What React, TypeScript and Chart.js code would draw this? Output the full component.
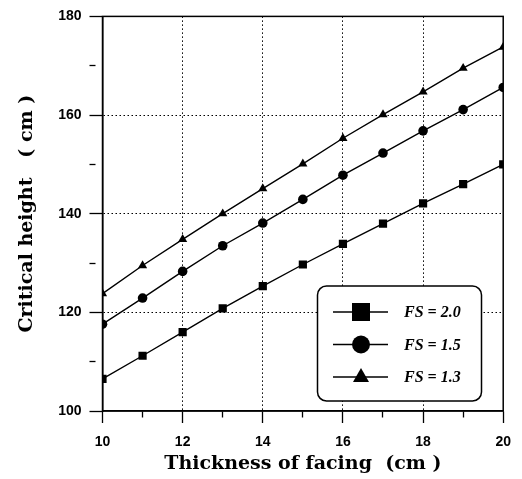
import React, { useEffect, useRef } from "react";
import { Chart, registerables } from "chart.js";

Chart.register(...registerables);

const thickness = [10, 11, 12, 13, 14, 15, 16, 17, 18, 19, 20];
const fs20 = [106.5, 111.2, 116.0, 120.8, 125.3, 129.7, 133.9, 138.0, 142.1, 146.0, 150.0];
const fs15 = [117.6, 122.9, 128.3, 133.5, 138.1, 142.9, 147.8, 152.3, 156.8, 161.1, 165.6];
const fs13 = [123.8, 129.5, 134.8, 140.0, 145.1, 150.1, 155.3, 160.1, 164.7, 169.5, 173.8];
const seriesLabels = ["FS = 2.0", "FS = 1.5", "FS = 1.3"];
const seriesStyles = ["rect", "circle", "triangle"];
const xTitle = "Thickness of facing  (cm )";
const yTitle = "Critical height   ( cm )";

const legendPlugin = {
  id: "customLegend",
  afterDraw(chart: any) {
    const { ctx, chartArea } = chart;
    ctx.save();
    // frame
    ctx.strokeStyle = "#000";
    ctx.lineWidth = 1.5;
    ctx.setLineDash([]);
    ctx.strokeRect(chartArea.left, chartArea.top, chartArea.right - chartArea.left, chartArea.bottom - chartArea.top);
    // legend box
    const bx = 317.5, by = 286, bw = 164, bh = 115;
    ctx.fillStyle = "#fff";
    ctx.beginPath();
    (ctx as any).roundRect(bx, by, bw, bh, 9);
    ctx.fill();
    ctx.lineWidth = 1.5;
    ctx.stroke();
    const rows = [312, 344.5, 377];
    rows.forEach((ry, i) => {
      ctx.lineWidth = 1.3;
      ctx.beginPath();
      ctx.moveTo(333, ry);
      ctx.lineTo(388, ry);
      ctx.stroke();
      ctx.fillStyle = "#000";
      const cx = 361;
      if (seriesStyles[i] === "rect") {
        ctx.fillRect(cx - 9, ry - 9, 18, 18);
      } else if (seriesStyles[i] === "circle") {
        ctx.beginPath();
        ctx.arc(cx, ry, 9, 0, Math.PI * 2);
        ctx.fill();
      } else {
        ctx.beginPath();
        ctx.moveTo(cx, ry - 9);
        ctx.lineTo(cx + 8, ry + 5);
        ctx.lineTo(cx - 8, ry + 5);
        ctx.closePath();
        ctx.fill();
      }
      ctx.font = "italic bold 16px 'Liberation Serif'";
      ctx.textBaseline = "middle";
      ctx.textAlign = "left";
      ctx.fillText(seriesLabels[i], 404, ry + 1);
    });
    ctx.restore();
  },
};

export default function App() {
  const ref = useRef<HTMLCanvasElement>(null);
  useEffect(() => {
    if (!ref.current) return;
    const mk = (vals: number[]) => thickness.map((x, i) => ({ x, y: vals[i] }));
    const allSeries = [fs20, fs15, fs13];
    const tickFont = { family: "'Liberation Sans', Arial", weight: "bold" as const, size: 14 };
    const titleFont = { family: "'DejaVu Serif'", weight: "bold" as const, size: 19 };
    const chart = new Chart(ref.current, {
      type: "line",
      data: {
        datasets: allSeries.map((vals, i) => ({
          label: seriesLabels[i],
          data: mk(vals),
          borderColor: "#000",
          backgroundColor: "#000",
          borderWidth: 1.4,
          pointStyle: seriesStyles[i] as any,
          pointRadius: i === 0 ? 5.8 : i === 1 ? 4.8 : 5.3,
          pointBorderWidth: 0,
          pointBackgroundColor: "#000",
          tension: 0,
        })),
      },
      options: {
        animation: false,
        responsive: false,
        layout: { padding: { left: 0, top: 12, right: 18, bottom: 0 } },
        plugins: { legend: { display: false }, tooltip: { enabled: false } },
        scales: {
          x: {
            type: "linear",
            min: 10,
            max: 20,
            afterFit: (s: any) => { s.height = 68; },
            ticks: {
              stepSize: 1,
              color: "#000",
              font: tickFont,
              padding: 11,
              maxRotation: 0,
              autoSkip: false,
              callback: (v: any) => (v % 2 === 0 ? String(v) : ""),
            },
            grid: {
              color: (c: any) => {
                const v = c.tick?.value;
                return v % 2 === 0 && v > 10 && v < 20 ? "#000" : "rgba(0,0,0,0)";
              },
              lineWidth: 1,
              tickColor: "#000",
              tickLength: 12,
              tickWidth: 1.3,
              tickBorderDash: (c: any) => (c.tick?.value % 2 === 0 ? [] : [6, 100]),
            },
            border: { color: "#000", width: 1.5, dash: [1.5, 2.5] },
            title: { display: true, text: xTitle, color: "#000", font: titleFont, padding: { top: 0, bottom: 4 } },
          },
          y: {
            type: "linear",
            min: 100,
            max: 180,
            afterFit: (s: any) => { s.width = 102.5; },
            ticks: {
              stepSize: 10,
              color: "#000",
              font: tickFont,
              padding: 8,
              autoSkip: false,
              callback: (v: any) => (v % 20 === 0 ? String(v) : ""),
            },
            grid: {
              color: (c: any) => {
                const v = c.tick?.value;
                return v % 20 === 0 && v > 100 && v < 180 ? "#000" : "rgba(0,0,0,0)";
              },
              lineWidth: 1,
              tickColor: "#000",
              tickLength: 13,
              tickWidth: 1.3,
              tickBorderDash: (c: any) => (c.tick?.value % 20 === 0 ? [] : [6, 100]),
            },
            border: { color: "#000", width: 1.5, dash: [1.5, 2.5] },
            title: { display: true, text: yTitle, color: "#000", font: titleFont, padding: { top: 16, bottom: 0 } },
          },
        },
      },
      plugins: [legendPlugin],
    });
    return () => chart.destroy();
  }, []);
  return (
    <div style={{ position: "absolute", left: 0, top: 0, width: 522, height: 479, background: "#fff" }}>
      <canvas ref={ref} width={522} height={479} style={{ width: 522, height: 479 }} />
    </div>
  );
}
